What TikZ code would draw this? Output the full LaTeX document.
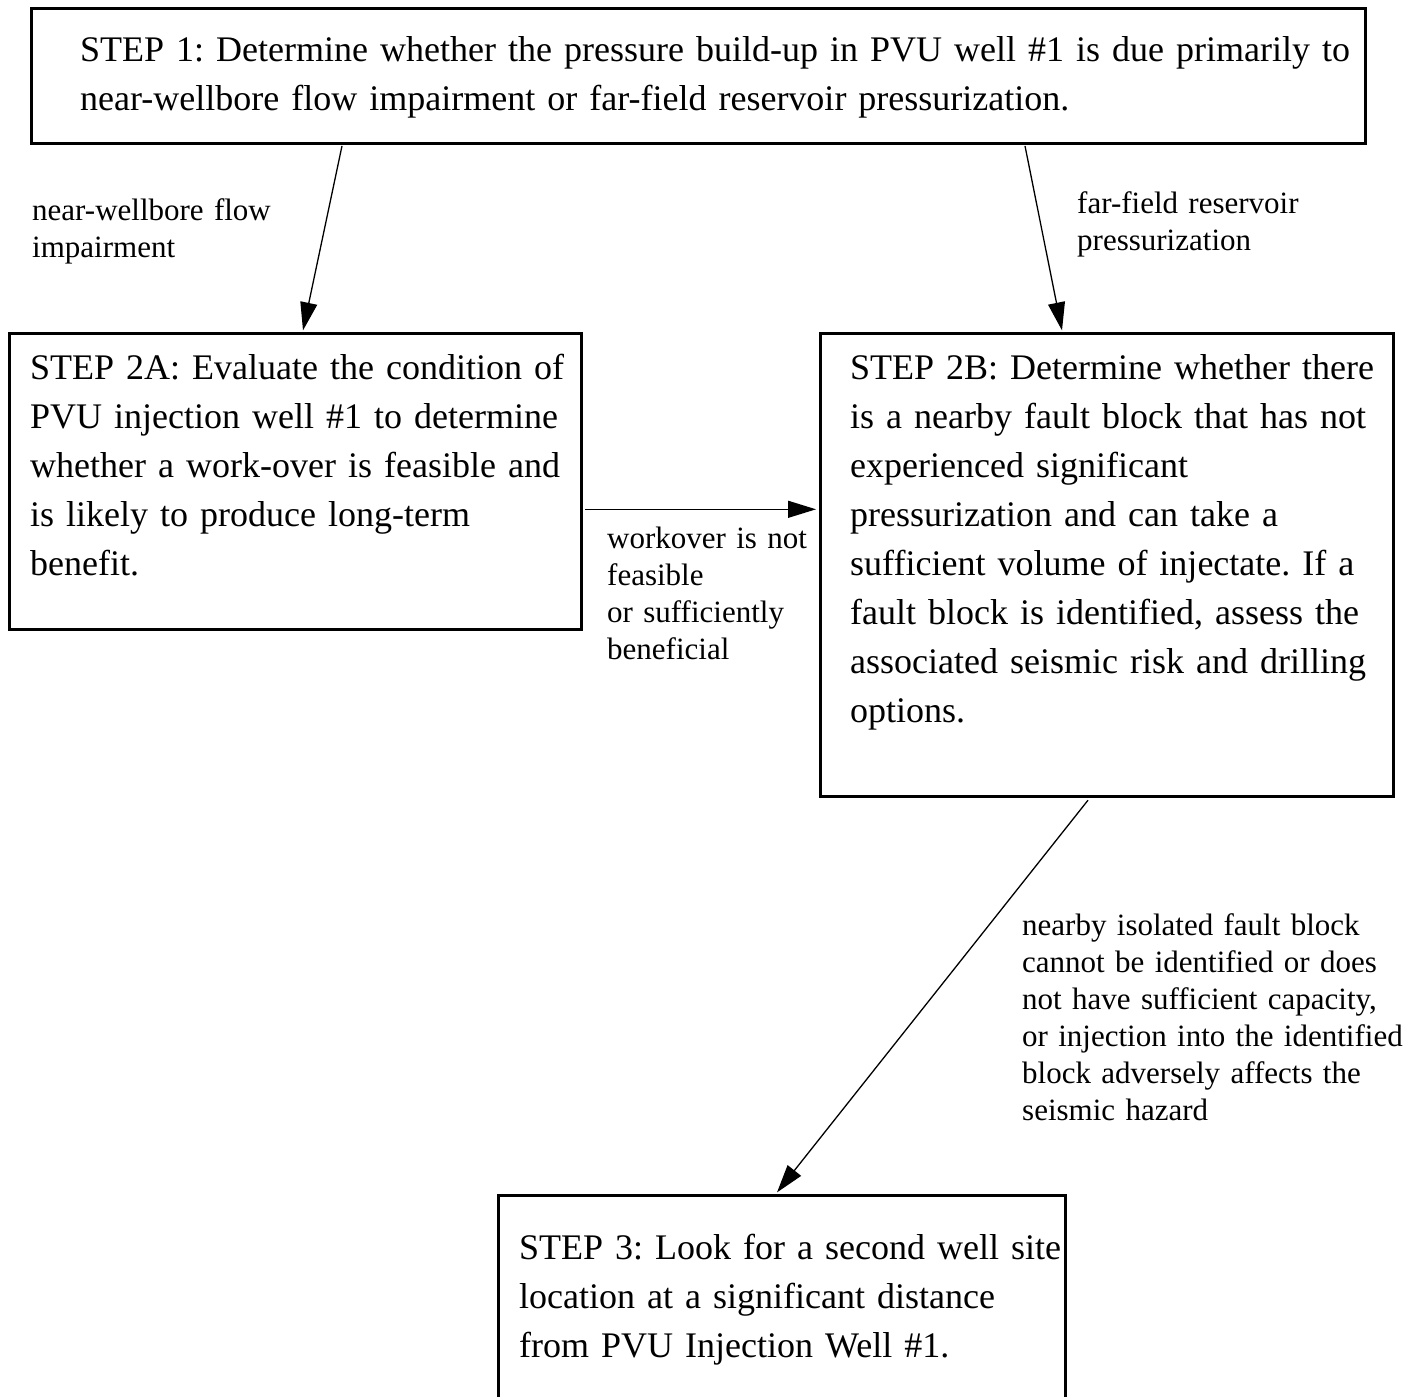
\documentclass[tikz,border=0pt]{standalone}
\usepackage{fontspec}
\setmainfont{Liberation Serif}
\usetikzlibrary{arrows.meta}
\tikzset{
  stepbox/.style={draw, line width=2.6pt, inner sep=0pt, anchor=north west},
  maintext/.style={anchor=base west, inner sep=0pt, text width=#1, align=left,
    font=\fontsize{36.0}{49}\selectfont\frenchspacing},
  lbl/.style={anchor=base west, inner sep=0pt, text width=#1, align=left,
    font=\fontsize{31}{37}\selectfont\frenchspacing},
  conn/.style={line width=1.3pt, -{Triangle[length=28pt,width=17pt]}}
}
\begin{document}
\begin{tikzpicture}[x=1pt,y=-1pt]
\useasboundingbox (0,0) rectangle (1417,1397);
\clip (0,0) rectangle (1417,1397);
% boxes
\node[stepbox, minimum width=1334pt, minimum height=135pt] (s1) at (30,7) {};
\node[stepbox, minimum width=572pt, minimum height=296pt] (s2a) at (8,332) {};
\node[stepbox, minimum width=573pt, minimum height=463pt] (s2b) at (819,332) {};
\node[stepbox, minimum width=567pt, minimum height=240pt] (s3) at (497,1194) {};
% box texts
\node[maintext=1320pt] (t1) at (80,62) {STEP 1: Determine whether the pressure build-up in PVU well \#1 is due primarily to\\near-wellbore flow impairment or far-field reservoir pressurization.};
\node[maintext=560pt] (t2a) at (30,379) {STEP 2A: Evaluate the condition of\\PVU injection well \#1 to determine\\whether a work-over is feasible and\\is likely to produce long-term\\benefit.};
\node[maintext=560pt] (t2b) at (850,379) {STEP 2B: Determine whether there\\is a nearby fault block that has not\\experienced significant\\pressurization and can take a\\sufficient volume of injectate. If a\\fault block is identified, assess the\\associated seismic risk and drilling\\options.};
\node[maintext=560pt] (t3) at (519,1259) {STEP 3: Look for a second well site\\location at a significant distance\\from PVU Injection Well \#1.};
% connector labels
\node[lbl=300pt] (l1) at (32,220) {near-wellbore flow\\impairment};
\node[lbl=300pt] (l2) at (1077,213) {far-field reservoir\\pressurization};
\node[lbl=220pt] (l3) at (607,548) {workover is not\\feasible\\or sufficiently\\beneficial};
\node[lbl=400pt] (l4) at (1022,935) {nearby isolated fault block\\cannot be identified or does\\not have sufficient capacity,\\or injection into the identified\\block adversely affects the\\seismic hazard};
% connectors
\draw[conn] ([xshift=312pt,yshift=-1.3pt]s1.south west) -- ([xshift=295pt,yshift=1.6pt]s2a.north west);
\draw[conn] ([xshift=995pt,yshift=-1.3pt]s1.south west) -- ([xshift=243pt,yshift=1.6pt]s2b.north west);
\draw[conn] ([xshift=2.6pt,yshift=-28pt]s2a.east) -- ([xshift=-3pt,yshift=55.5pt]s2b.west);
\draw[conn] ([xshift=269pt,yshift=-2.6pt]s2b.south west) -- ([xshift=280pt,yshift=1.6pt]s3.north west);
\end{tikzpicture}
\end{document}
